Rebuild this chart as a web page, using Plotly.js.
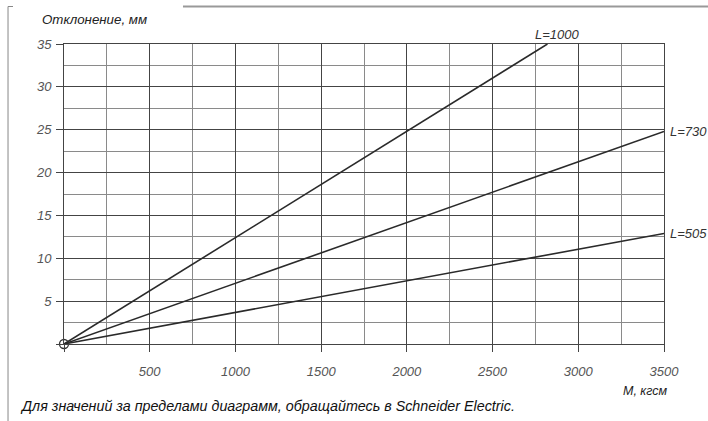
<!DOCTYPE html>
<html>
<head>
<meta charset="utf-8">
<script src="https://cdn.plot.ly/plotly-3.0.1.min.js"></script>
<style>html,body{margin:0;padding:0;background:#fff}#chart{width:708px;height:421px}</style>
</head>
<body>
<div id="chart"></div>
<script>
// Data
const seriesNames = ["L=1000", "L=730", "L=505"];
const momentL1000 = [0, 2820];
const deflL1000 = [0, 35];
const momentL730 = [0, 3500];
const deflL730 = [0, 24.8];
const momentL505 = [0, 3500];
const deflL505 = [0, 12.9];
const xTickVals = [500, 1000, 1500, 2000, 2500, 3000, 3500];
const yTickVals = [5, 10, 15, 20, 25, 30, 35];
const yAxisTitle = "Отклонение, мм";
const xAxisTitle = "М, кгсм";
const footerText = "Для значений за пределами диаграмм, обращайтесь в Schneider Electric.";

const lineStyle = {color: "#2a2a2a", width: 1.6};
const xs = [momentL1000, momentL730, momentL505];
const ys = [deflL1000, deflL730, deflL505];

const traces = xs.map((x, i) => ({
  type: "scatter", mode: "lines", x: x, y: ys[i], name: seriesNames[i],
  line: lineStyle, hoverinfo: "skip", cliponaxis: false
}));
traces.push({
  type: "scatter", mode: "markers", x: [momentL1000[0]], y: [deflL1000[0]],
  marker: {symbol: "circle-open", size: 9, color: "#333", line: {width: 1.3}},
  hoverinfo: "skip", cliponaxis: false
});

const fam = "Liberation Sans, Arial, sans-serif";
const tickFont = {family: fam, size: 13, color: "#555", style: "italic"};
const labelFont = {family: fam, size: 13, color: "#333", style: "italic"};

const annotations = [];
annotations.push({x: momentL1000[1], y: deflL1000[1], xref: "x", yref: "y", text: seriesNames[0],
  showarrow: false, xanchor: "center", yanchor: "middle", xshift: 10, yshift: 10, font: labelFont});
annotations.push({x: momentL730[1], y: deflL730[1], xref: "x", yref: "y", text: seriesNames[1],
  showarrow: false, xanchor: "left", yanchor: "middle", xshift: 4, font: labelFont});
annotations.push({x: momentL505[1], y: deflL505[1], xref: "x", yref: "y", text: seriesNames[2],
  showarrow: false, xanchor: "left", yanchor: "middle", xshift: 4, font: labelFont});
annotations.push({x: -0.04, y: 1.082, xref: "paper", yref: "paper", text: yAxisTitle, showarrow: false,
  xanchor: "left", yanchor: "middle", font: {family: fam, size: 13.3, color: "#222", style: "italic"}});
annotations.push({x: 1.01, y: -0.158, xref: "paper", yref: "paper", text: xAxisTitle, showarrow: false,
  xanchor: "right", yanchor: "middle", font: {family: fam, size: 12.5, color: "#222", style: "italic"}});
annotations.push({x: -0.0767, y: -0.208, xref: "paper", yref: "paper", text: footerText, showarrow: false,
  xanchor: "left", yanchor: "middle",
  font: {family: fam, size: 14.3, color: "#111", style: "italic"}});

const shapes = [
  {type: "line", xref: "paper", yref: "paper", x0: -0.0933, x1: -0.0933, y0: 1.125, y1: -0.26, line: {color: "#888", width: 1}},
  {type: "line", xref: "paper", yref: "paper", x0: -0.0933, x1: -0.085, y0: 1.125, y1: 1.125, line: {color: "#888", width: 1}},
  {type: "line", xref: "paper", yref: "paper", x0: 0.1983, x1: 1.08, y0: 1.125, y1: 1.125, line: {color: "#999", width: 2}}
];

const layout = {
  width: 708, height: 421,
  margin: {l: 64, r: 44, t: 44, b: 77, pad: 0},
  paper_bgcolor: "#fff", plot_bgcolor: "#fff",
  showlegend: false,
  xaxis: {
    range: [0, 3500], tickvals: [0].concat(xTickVals), ticktext: [""].concat(xTickVals.map(String)),
    showgrid: true, gridcolor: "#444", gridwidth: 1,
    minor: {dtick: 250, tick0: 0, showgrid: true, gridcolor: "#8a8a8a", gridwidth: 1, ticks: ""},
    zeroline: false, showline: true, mirror: true, linecolor: "#444", linewidth: 1,
    ticks: "outside", ticklen: 7, tickcolor: "#444", tickwidth: 1,
    ticklabelstandoff: 8, tickfont: tickFont, fixedrange: true
  },
  yaxis: {
    range: [0, 35], tickvals: [0].concat(yTickVals), ticktext: [""].concat(yTickVals.map(String)),
    showgrid: true, gridcolor: "#444", gridwidth: 1,
    minor: {dtick: 2.5, tick0: 0, showgrid: true, gridcolor: "#8a8a8a", gridwidth: 1, ticks: ""},
    zeroline: false, showline: true, mirror: true, linecolor: "#444", linewidth: 1,
    ticks: "outside", ticklen: 7, tickcolor: "#444", tickwidth: 1,
    ticklabelstandoff: 2, tickfont: tickFont, fixedrange: true
  },
  annotations: annotations,
  shapes: shapes
};

Plotly.newPlot("chart", traces, layout, {displayModeBar: false, staticPlot: true});
</script>
</body>
</html>
